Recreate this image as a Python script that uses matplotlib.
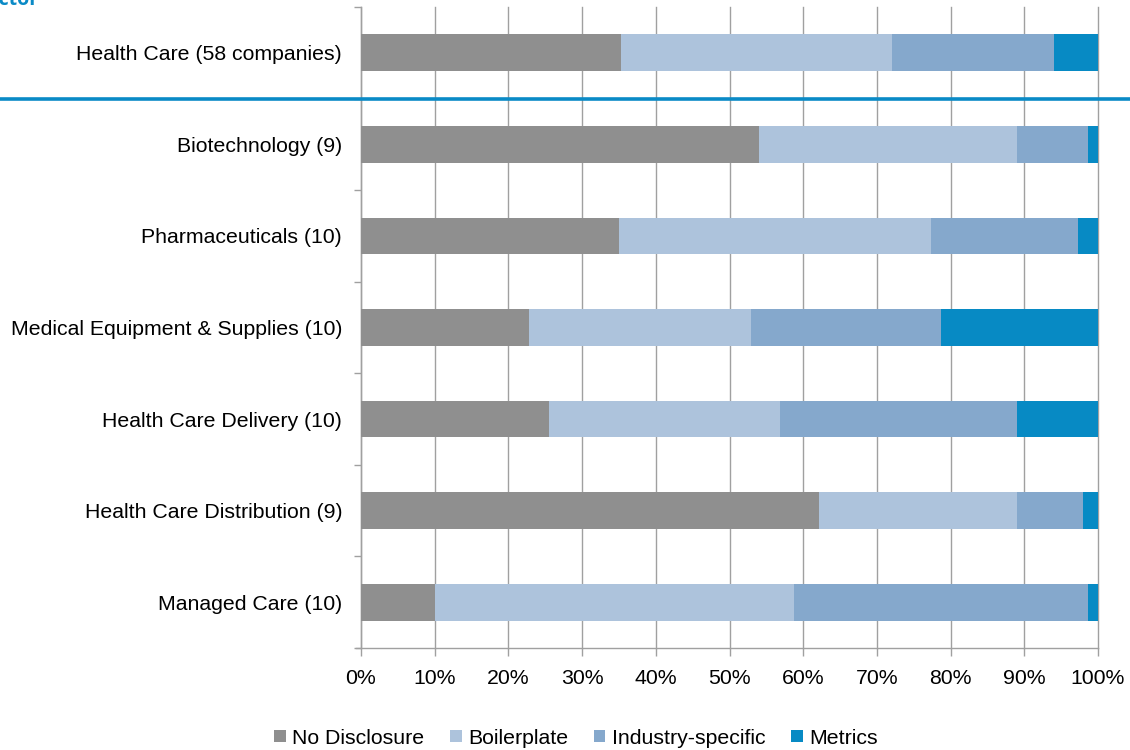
import matplotlib
matplotlib.use("Agg")
import matplotlib.pyplot as plt
from matplotlib.lines import Line2D
from matplotlib.patches import Patch
import numpy as np

plt.rcParams['font.family'] = ['Liberation Sans', 'DejaVu Sans']

categories = [
    "Health Care (58 companies)",
    "Biotechnology (9)",
    "Pharmaceuticals (10)",
    "Medical Equipment & Supplies (10)",
    "Health Care Delivery (10)",
    "Health Care Distribution (9)",
    "Managed Care (10)",
]
series_names = ["No Disclosure", "Boilerplate", "Industry-specific", "Metrics"]
no_disclosure = [35.3, 54.0, 35.0, 22.8, 25.5, 62.2, 10.0]
boilerplate = [36.7, 35.0, 42.3, 30.1, 31.3, 26.8, 48.7]
industry_specific = [22.0, 9.6, 20.0, 25.8, 32.2, 9.0, 40.0]
metrics = [6.0, 1.4, 2.7, 21.3, 11.0, 2.0, 1.3]
x_ticks = [0, 10, 20, 30, 40, 50, 60, 70, 80, 90, 100]
x_tick_labels = [f"{t}%" for t in x_ticks]
colors = ["#8f8f8f", "#adc3dc", "#85a8cc", "#078ac4"]

FS = 15.3

fig = plt.figure(figsize=(11.3, 7.5), dpi=100)
ax = fig.add_axes([361/1130, (750-648)/750, (1098-361)/1130, (648-7)/750])

y = np.arange(len(categories))
left = np.zeros(len(categories))
for vals, col, name in zip([no_disclosure, boilerplate, industry_specific, metrics], colors, series_names):
    ax.barh(y, vals, left=left, height=0.40, color=col, label=name, zorder=3, linewidth=0)
    left += np.array(vals)

ax.set_xlim(0, 100)
ax.set_ylim(len(categories) - 0.5, -0.5)
ax.set_xticks(x_ticks)
ax.set_xticklabels(x_tick_labels, fontsize=FS)
ax.set_yticks(y)
ax.set_yticklabels(categories, fontsize=FS)
ax.tick_params(axis='y', length=0, pad=13.5)
ax.set_yticks(np.arange(-0.5, len(categories) + 0.5, 1), minor=True)
ax.tick_params(axis='y', which='minor', length=5, color='#a0a0a0', width=1)
ax.tick_params(axis='x', length=6, color='#a0a0a0', width=1, pad=9)
ax.grid(axis='x', color='#a0a0a0', linewidth=1, zorder=0)
for gl in ax.get_xgridlines():
    gl.set_clip_on(False)
for s in ['top', 'right']:
    ax.spines[s].set_visible(False)
for s in ['left', 'bottom']:
    ax.spines[s].set_color('#a0a0a0')
    ax.spines[s].set_linewidth(1)
ax.spines['bottom'].set_bounds(-0.7, 100)

# separator line between total and sub-industries
fig.add_artist(Line2D([0, 1], [(750-99)/750, (750-99)/750], color='#0a8ac6', linewidth=2.6, transform=fig.transFigure))

# partially visible title (cut off at the top-left edge, as in the reference)
fig.text(38/1130, (750-5)/750, "Disclosure by Sector", ha='right', va='baseline',
         fontsize=14, fontweight='bold', color='#0a8ac6', family=['Open Sans', 'DejaVu Sans'])

handles = [Patch(facecolor=c, edgecolor='none') for c in colors]
fig.legend(handles, series_names, loc='center', bbox_to_anchor=(576/1130, (750-738)/750),
           ncol=4, frameon=False, fontsize=FS, handlelength=0.55, handleheight=0.55,
           handletextpad=0.3, columnspacing=1.2)

fig.savefig("out.png", dpi=100)
